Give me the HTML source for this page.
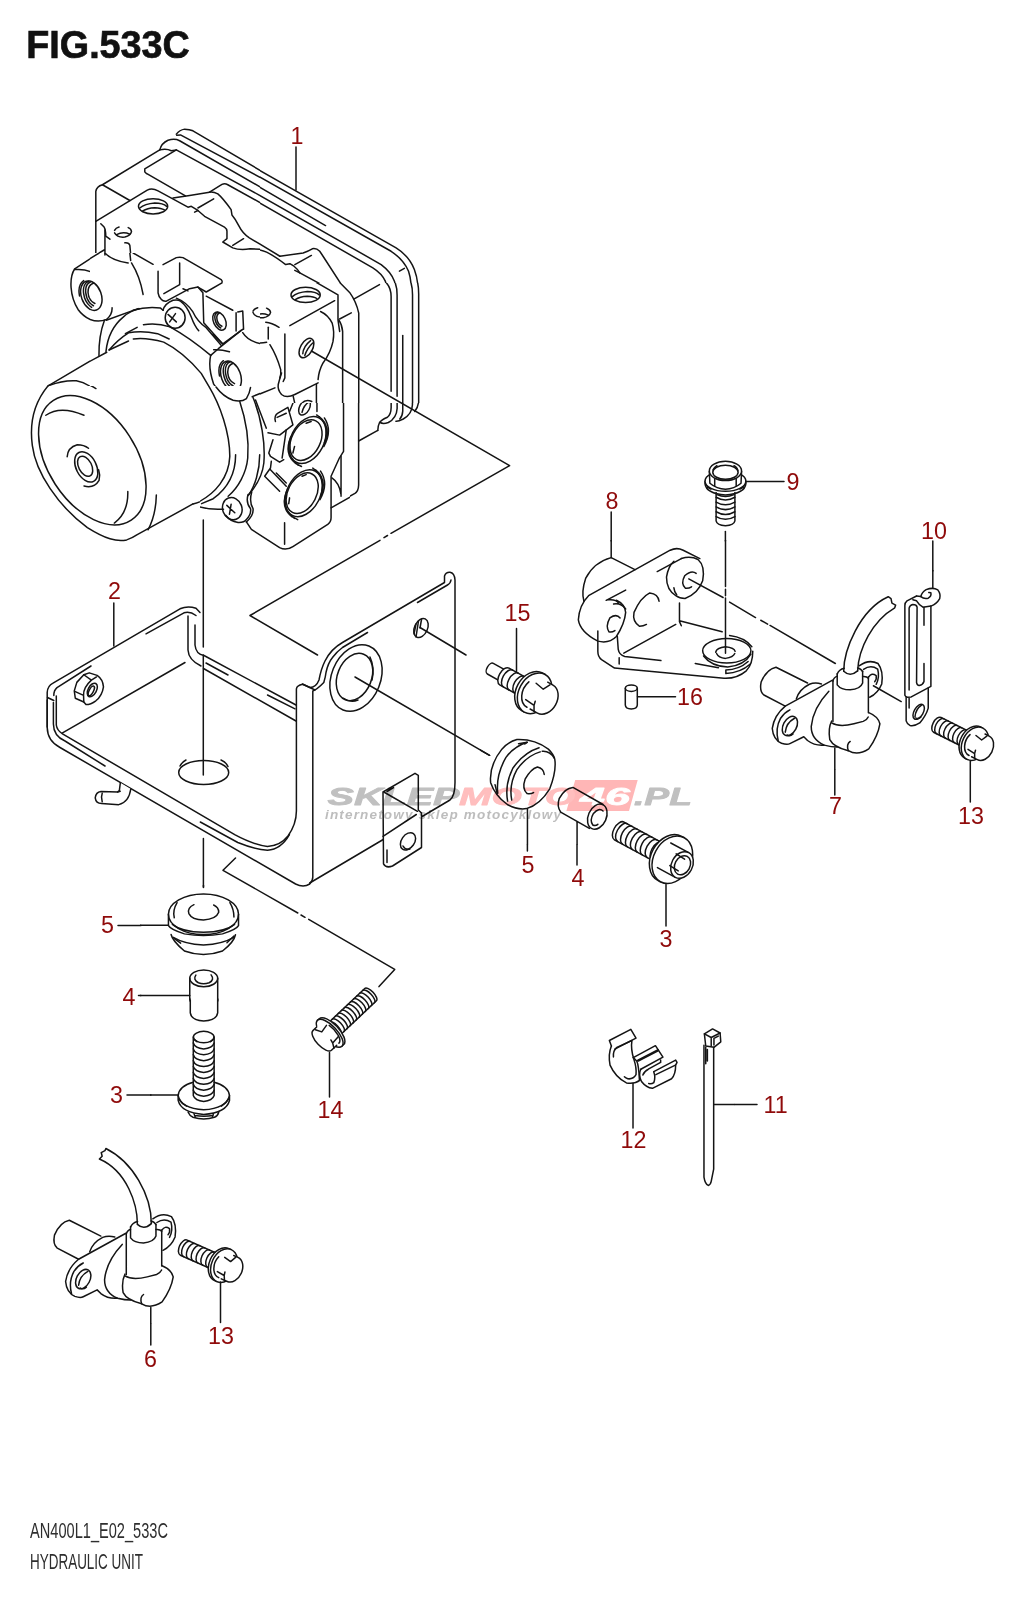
<!DOCTYPE html>
<html lang="pl">
<head>
<meta charset="utf-8">
<title>FIG.533C HYDRAULIC UNIT</title>
<style>
html,body{margin:0;padding:0;background:#fff;}
body{width:1024px;height:1600px;overflow:hidden;font-family:"Liberation Sans",sans-serif;}
svg{display:block;position:absolute;left:0;top:0;}
.l{fill:none;stroke:#141414;stroke-width:1.5;stroke-linecap:round;stroke-linejoin:round;}
.f{fill:#fff;stroke:#141414;stroke-width:1.5;stroke-linecap:round;stroke-linejoin:round;}
.v path,.v ellipse,.v circle,.v line{vector-effect:non-scaling-stroke;}
.n{font-family:"Liberation Sans",sans-serif;font-size:23.3px;fill:#8f0a0a;text-anchor:middle;}
.t{font-family:"Liberation Sans",sans-serif;font-weight:bold;font-size:39px;fill:#111;stroke:#111;stroke-width:0.7px;}
.b{font-family:"Liberation Sans",sans-serif;font-size:22.3px;fill:#2e2e2e;}
</style>
</head>
<body>
<svg width="1024" height="1600" viewBox="0 0 1024 1600">
<rect width="1024" height="1600" fill="#fff"/>
<!--TITLE-->
<text class="t" x="26.300" y="57.600" textLength="163.500" lengthAdjust="spacingAndGlyphs">FIG.533C</text>

<!-- long leader / phantom lines -->
<g class="l" id="leaders">
<path d="M296 147V190"/>
<path d="M113.8 603V646"/>
<path d="M203.3 520V647M203.3 655V775M203.4 838.6V887"/>
<path d="M311.4 351L509.6 465.6L391 533.3M387.5 535.5L384 537.7M380 540.3L250 615.5L317.5 655"/>
<path d="M235.5 858L223 870.3L297.8 913M301 915L305 917.3M308.7 919.4L394.700 969.400L379 986.600"/>
<path d="M355 677L489.600 755.300"/>
<path d="M420 627.5L466 655"/>
</g>
<!-- PART 2 bracket -->
<g class="l" id="bracket">
<path d="M47.2 727V692.5Q47.5 686 53 683.2L180 608.8Q187.5 605.3 196 608.2L200 612.5"/>
<path d="M53.8 695.5Q53.8 690.3 57 687.6L91 666M146 633.8L184 612.8Q190 611 196 615.5"/>
<path d="M47.5 697.5L53.8 700.5"/>
<path d="M188 616V650Q188.5 660 201 666"/>
<path d="M195 625V645Q196 654.5 204 655.5L296 705"/>
<path d="M203.5 668.5L296 721M267.5 695L295 708.8M206 663L228 675"/>
<path d="M62.5 732.8L185 662.5"/>
<path d="M47.2 700V727.5Q47.5 741 60 747.5L295.6 884Q303.4 888 309.7 884Q312.8 881 312.8 877V691Q317 689.5 323.8 682.5Q325.5 677 326 672.5Q328 663 332.5 657.5Q337 651.5 342.5 647.5L367.5 632.5"/>
<path d="M53.4 702.5V724Q53.5 736 65 741L105 766"/>
<path d="M56.3 696V725Q57 730.5 62.5 733.8L234.7 834.7Q253.4 844.8 267.5 846.4Q280 846 288 836Q296.4 824 296.4 811V688.8Q297 685.5 302.5 684.3L310 687.5Q316 687.5 319 680Q321 669 325 661Q331 649 342.5 642.5L444.5 582.5V576Q446 572 450 572.3Q454.5 573 455 580V782.5Q455 796 450 800L309.7 883"/>
<path d="M200.3 822L237.8 842.5Q255 849.5 267.5 850.3Q281 849.5 289.4 834.7"/>
<path d="M302.5 684L315 690"/>
<path d="M417.5 602.5L447.5 585Q450.5 583.5 451 580"/>
<!-- hole in plate -->
<ellipse cx="203.7" cy="772.5" rx="25" ry="12"/>
<path d="M180 766Q182 762 186 760M221 760Q226 762 228 766.5"/>
<!-- big hole -->
<ellipse cx="356" cy="678" rx="24.5" ry="34.5" transform="rotate(22 356 678)"/>
<ellipse cx="354.5" cy="677" rx="17" ry="24.5" transform="rotate(22 354.5 677)"/>
<path d="M370 657Q375 668 372 680M343 698Q350 703 358 700"/>
<!-- small hole -->
<ellipse cx="421" cy="628" rx="6.5" ry="10" transform="rotate(25 421 628)"/>
<path d="M416 624L414 634M418.5 621L416 637M421.5 619.5L420 628"/>
<!-- small tab -->
<path class="f" d="M383 792L415 773.3L418.300 775.300V810L421.500 813V847.500L392.500 866Q386 868.500 383.500 863.800Z"/>
<path d="M383.800 792L417.500 811.300M383 836.300L416.300 814.500M389 789.500L393.500 787.600L387 791.500M387 850V862.500"/>
<ellipse cx="408" cy="841.300" rx="6.500" ry="9.500" transform="rotate(35 408 841.300)"/>
<path d="M403 846Q405 850 410 849"/>
</g>

<!-- nut + hook pin -->
<clipPath id="c1"><rect x="0" y="0" width="1024" height="1339"/></clipPath><g transform="translate(40,650) scale(0.126953)"><g clip-path="url(#c1)" class="l v">
<path d="M270 322L290 255L345 195L388 180L450 200Q495 230 500 290Q490 360 440 400Q400 430 362 430L345 410L278 380Z"/>
<path d="M345 195L405 237L445 212M278 328L343 357L345 410M343 357Q340 295 405 237"/>
<ellipse cx="412" cy="315" rx="33" ry="58" transform="rotate(28 412 315)"/>
<ellipse cx="404" cy="322" rx="17" ry="42" transform="rotate(28 404 322)"/>
<path class="f" d="M633 1045L625 1108L612 1118L480 1115Q440 1120 435 1165Q440 1208 485 1210L620 1218Q700 1200 715 1095"/>
<path d="M490 1128Q478 1160 490 1195M612 1118L632 1112"/>
</g></g>

<!-- ABS tile 1 -->
<clipPath id="c2"><rect x="0" y="0" width="1024" height="801.129"/></clipPath><g transform="translate(90,120) scale(0.166016)"><g clip-path="url(#c2)" class="l v">
<path d="M520 85Q540 60 570 55Q600 55 620 65L1024 303"/>
<path d="M522 92L545 90L1024 345"/>
<path d="M420 180Q430 140 470 122Q510 110 540 125L1024 403"/>
<path d="M420 180Q460 170 490 185L520 180L1024 455"/>
<path d="M420 180L75 390Q40 400 35 430V810"/>
<path d="M520 180L330 295V312Q335 320 345 325L575 457"/>
<path d="M75 390L240 485"/>
<path d="M35 610L345 422Q375 408 410 427L590 525L610 520L650 545L690 580L810 645Q825 655 825 670V715L800 735L860 770Q900 785 964 776L1024 778"/>
<path d="M500 470L600 455L720 435Q745 432 770 445Q800 470 850 540L855 572Q875 595 895 635Q920 685 960 710L1024 748"/>
<path d="M720 435L795 388Q812 380 830 390L1024 497"/>
<path d="M650 530L745 475"/>
<path d="M630 555L650 545"/>
<path d="M860 755L925 715"/>
<ellipse cx="380" cy="520" rx="88" ry="46"/>
<path d="M300 530Q330 505 390 500Q440 500 462 520M318 548Q345 530 390 528Q430 530 448 542"/>
<path d="M148 665Q155 650 175 645M230 648Q248 655 250 672Q245 695 210 705Q165 710 148 680"/>
<path d="M160 690Q200 670 240 688"/>
<path d="M65 625L85 645Q95 660 95 700L120 718"/>
<path d="M210 740Q235 738 240 755L245 810"/>
<path d="M55 801L90 780M90 662V801"/>
</g></g>

<!-- ABS tile 2 -->
<clipPath id="c3"><rect x="60" y="0" width="964" height="801"/></clipPath><g transform="translate(250,150) scale(0.166016)"><g clip-path="url(#c3)" class="l v">
<path d="M0 90L880 590Q960 640 990 720Q1008 770 1010 810"/>
<path d="M0 130L850 610Q925 660 955 730Q968 770 970 810"/>
<path d="M0 190L455 455"/>
<path d="M0 240L790 690Q850 735 870 790L875 810"/>
<path d="M0 285L740 710Q795 745 815 790L822 810"/>
<path d="M900 730L930 713"/>
<path d="M0 530L180 640"/>
<path d="M0 595Q60 597 100 615Q150 640 215 690L240 685L265 700Q290 720 300 740"/>
<path d="M180 640L320 620Q350 610 375 595Q400 590 420 610L440 640L550 810"/>
<path d="M270 690L370 635"/>
<path d="M270 725L300 740L420 805"/>
</g></g>

<!-- ABS tile 3 -->
<clipPath id="c4"><rect x="60" y="78" width="964" height="723"/></clipPath><g transform="translate(250,270) scale(0.166016)"><g clip-path="url(#c4)" class="l v">
<path d="M270 0L530 150V300L540 370"/>
<path d="M488 0L545 80L600 135Q640 190 655 260V810"/>
<path d="M625 175L780 88"/>
<path d="M540 295L610 258"/>
<path d="M535 300Q555 330 558 370V810"/>
<path d="M822 78Q850 110 850 160V730"/>
<path d="M875 78Q887 110 886 160V760"/>
<path d="M920 395V810"/>
<path d="M970 78Q980 110 979 160V810"/>
<path d="M1010 78Q1017 110 1016 160V810"/>
<path d="M240 335L510 185"/>
<path d="M210 385V650L200 672"/>
<ellipse cx="340" cy="470" rx="36" ry="64" transform="rotate(30 340 470)"/>
<path d="M318 505Q320 460 365 425M330 515Q345 470 378 440"/>
<path d="M425 250Q470 270 495 320Q510 370 500 430Q485 500 440 560Q415 605 410 660"/>
<path d="M410 680L270 750Q220 775 190 750Q165 720 170 690Q180 650 190 620"/>
<path d="M400 690V810"/>
<ellipse cx="335" cy="150" rx="88" ry="46"/>
<path d="M255 160Q285 135 345 130Q395 130 417 150M273 178Q300 160 345 158Q385 160 403 172"/>
<path d="M15 255Q20 235 40 228M100 230Q122 240 124 255Q118 280 80 288Q30 290 15 262"/>
<path d="M30 275Q70 255 110 272"/>
<path d="M95 315Q130 318 175 345"/>
<path d="M110 345V415"/>
<path d="M0 430Q50 445 100 435"/>
<path d="M120 450Q160 515 185 600Q188 630 180 650"/>
<path d="M0 770L150 710"/>
<path d="M260 760L270 805"/>
<path d="M310 805Q335 775 372 792"/>
</g></g>

<!-- ABS tile 4 -->
<clipPath id="c5"><rect x="0" y="0" width="1024" height="801.129"/></clipPath><g transform="translate(90,253) scale(0.166016)"><g clip-path="url(#c5)" class="l v">
<path d="M260 0L380 68"/>
<path d="M0 34L55 0M90 0V12"/>
<path d="M90 0Q130 45 230 60"/>
<path d="M240 0L245 45"/>
<path d="M250 60Q300 140 320 250"/>
<g transform="translate(8 257) rotate(-20)"><ellipse cx="0" cy="0" rx="60" ry="92"/><path d="M13.2 -87.1 A55.2 87.1 0 0 0 -22.3 66.7M26.4 -80.1 A55.2 80.1 0 0 0 -9.1 61.4M39.6 -67.0 A55.2 67.0 0 0 0 4.1 51.4M-67.2 -23.0 A69.0 103.0 0 0 1 -12.0 -101.2"/></g>
<path d="M133 330Q135 370 100 400Q50 420 0 400"/>
<path d="M98 405L290 335"/>
<path d="M260 345Q340 322 425 332L440 345"/>
<path d="M440 70L520 28Q540 22 560 28L790 160Q800 170 795 180L700 235L650 205L600 215L460 290Q440 292 430 280Q412 260 410 240V110"/>
<path d="M540 60V190L445 245M560 215L590 228"/>
<path d="M650 205L680 240L685 420L800 548"/>
<path d="M700 260L860 345M880 360V470"/>
<g transform="translate(780 410) rotate(-25)"><ellipse cx="0" cy="0" rx="36" ry="58"/><path d="M10.8 -53.7 A33.1 53.7 0 0 0 -10.5 41.1M21.6 -45.0 A33.1 45.0 0 0 0 0.3 34.5"/></g>
<path d="M740 490L800 548L920 460"/>
<path d="M890 355L920 350L925 460"/>
<path d="M982 350Q990 335 1010 330M982 358Q995 390 1040 385"/>
<path d="M920 480Q950 530 1024 545"/>
<ellipse cx="513" cy="390" rx="60" ry="63"/>
<path d="M470 370L520 415M515 365L480 415"/>
<path d="M440 345Q450 305 500 285Q530 280 545 290Q585 320 610 385Q630 440 655 468"/>
<path d="M520 272Q580 295 620 355Q645 410 700 450L790 555"/>
<path d="M54 617Q52 500 87 405"/>
<path d="M96 594Q110 460 200 386Q245 345 300 335"/>
<path d="M213 486L284 448M322 432Q400 418 482 445Q600 510 727 617"/>
<path d="M115 584Q170 520 232 481Q312 465 407 486L477 518"/>
<path d="M115 584L232 530M261 518Q340 508 444 537Q560 595 670 725L720 810"/>
<path d="M-2 653L101 598"/>
<path d="M727 617L775 575L912 465"/>
<path d="M745 583Q790 580 840 595"/>
<path d="M727 617Q710 690 745 790L760 810"/>
<g transform="translate(849 740) rotate(-20)"><ellipse cx="0" cy="0" rx="58" ry="92"/><path d="M12.8 -87.1 A53.4 87.1 0 0 0 -21.5 66.7M25.5 -80.1 A53.4 80.1 0 0 0 -8.8 61.4M38.3 -67.0 A53.4 67.0 0 0 0 4.0 51.4M-65.0 -23.0 A66.7 103.0 0 0 1 -11.6 -101.2"/></g>
</g></g>

<!-- ABS tile 5 (left boss) -->
<clipPath id="c6"><rect x="0" y="0" width="542" height="801"/></clipPath><g transform="translate(0,253) scale(0.166016)"><g clip-path="url(#c6)" class="l v">
<path d="M596 0L450 95C415 150 420 260 470 340C510 395 580 425 625 412C660 395 675 360 675 330"/>
<path d="M450 100Q510 95 550 115"/>
<g transform="translate(550 257) rotate(-20)"><ellipse cx="0" cy="0" rx="60" ry="92"/><path d="M13.2 -87.1 A55.2 87.1 0 0 0 -22.3 66.7M26.4 -80.1 A55.2 80.1 0 0 0 -9.1 61.4M39.6 -67.0 A55.2 67.0 0 0 0 4.1 51.4M-67.2 -23.0 A69.0 103.0 0 0 1 -12.0 -101.2"/></g>
<path d="M290 800L572 634"/>
<path d="M290 800Q380 765 460 770Q510 780 545 805"/>
</g></g>

<!-- ABS motor tile -->
<clipPath id="c7"><rect x="0" y="205" width="801" height="774"/></clipPath><g transform="translate(20,340) scale(0.224609)"><g clip-path="url(#c7)" class="l v">
<path d="M125 204C70 270 40 360 55 470C70 590 170 740 300 835C380 885 430 900 475 890Q500 882 520 868L770 730"/>
<ellipse cx="322" cy="535" rx="318" ry="197" transform="rotate(57 322 535)"/>
<path d="M125 204Q190 172 255 182Q300 192 338 216"/>
<path d="M115 335Q180 290 285 335"/>
<path d="M480 675Q482 770 420 815"/>
<path d="M607 690Q605 780 570 845"/>
<path d="M210 520Q212 478 255 466Q285 466 305 482"/>
<path d="M285 650Q330 662 352 625Q358 600 350 578"/>
<ellipse cx="295" cy="565" rx="45" ry="72" transform="rotate(-27 295 565)"/>
<ellipse cx="290" cy="562" rx="29" ry="48" transform="rotate(-27 290 562)"/>
<path d="M835 205Q890 300 925 430Q945 540 915 630Q880 700 770 730"/>
</g></g>

<!-- ABS valve block lower -->
<clipPath id="c8"><rect x="120" y="36" width="362" height="1169"/><rect x="482" y="138" width="542" height="1067"/></clipPath><g transform="translate(180,380) scale(0.166016)"><g clip-path="url(#c8)" class="l v">
<path d="M150 0C250 150 300 330 300 460C295 580 220 690 80 750L0 795"/>
<path d="M360 130C400 250 415 380 408 470C400 560 350 650 290 700"/>
<path d="M440 105C490 230 515 380 505 500C495 590 450 650 410 695"/>
<path d="M335 450C335 560 290 650 200 715L130 745"/>
<path d="M480 450C480 550 450 640 415 690"/>
<path d="M80 750Q160 785 262 778"/>
<ellipse cx="315" cy="775" rx="58" ry="68" transform="rotate(-20 315 775)"/>
<path d="M282 755L330 800M308 748L298 808"/>
<path d="M410 690Q395 740 425 775Q430 810 400 840Q385 860 350 858Q300 850 275 815"/>
<path d="M432 675Q415 735 440 775Q445 815 400 855"/>
<path d="M400 855L430 900L600 1010Q640 1030 680 1003L890 870Q910 855 910 830V580L960 470L985 430V0"/>
<path d="M630 860V990"/>
<path d="M970 460V700M915 590Q960 620 970 690"/>
<path d="M910 770L1024 705"/>
<path d="M217 42Q260 100 320 122Q370 135 400 112Q420 80 425 45"/>
<path d="M435 100L575 45L590 0"/>
<path d="M600 0Q590 60 620 98Q650 112 700 90L830 20"/>
<path d="M540 80L570 110"/>
<path d="M575 250Q565 215 590 200L650 165L680 270L600 332L530 318"/>
<path d="M585 225L640 200"/>
<path d="M560 360L535 440L545 460L600 495L625 480"/>
<path d="M640 300L615 470"/>
<path d="M550 490L545 530L510 580L600 670"/>
<path d="M545 540L640 640M580 560L640 620"/>
<path d="M455 120L520 290"/>
<ellipse cx="750" cy="165" rx="30" ry="50" transform="rotate(28 750 165)"/>
<path d="M735 195Q745 150 780 130"/>
<path d="M700 90L660 190M825 20V190"/>
<g transform="translate(768 362) rotate(27)"><ellipse rx="100" ry="150"/><ellipse cx="-8" cy="4" rx="86" ry="130"/>
<path d="M-98 30Q-90 140 0 158M-92 60Q-70 150 20 160M-85 90Q-50 160 40 158M98 -30Q90 -140 0 -158M92 -60Q70 -150 -20 -160M105 -10Q110 -120 30 -165"/></g>
<g transform="translate(745 682) rotate(27)"><ellipse rx="100" ry="150"/><ellipse cx="-8" cy="4" rx="86" ry="130"/>
<path d="M-98 30Q-90 140 0 158M-92 60Q-70 150 20 160M-85 90Q-50 160 40 158M98 -30Q90 -140 0 -158M92 -60Q70 -150 -20 -160M105 -10Q110 -120 30 -165"/></g>
<path d="M690 400L680 440M760 260L790 250M660 710L655 745M735 580L760 570"/>
</g></g>

<!-- ABS cover lower right -->
<clipPath id="c9"><rect x="57" y="74" width="967" height="626"/></clipPath><g transform="translate(340,390) scale(0.175781)"><g clip-path="url(#c9)" class="l v">
<path d="M106 0V540Q105 575 85 588L0 635"/>
<path d="M106 290L215 230"/>
<path d="M447 0V60Q447 95 425 122"/>
<path d="M412 0V85Q410 135 360 165Q330 180 318 178"/>
<path d="M357 0V120Q355 150 340 165"/>
<path d="M325 0V105Q322 160 275 185Q245 195 228 185"/>
<path d="M291 0V100Q290 140 270 155Q235 170 225 185Q215 205 215 230"/>
</g></g>

<!-- bolts -->
<g transform="translate(983.3 747.9) rotate(206.6)"><path class="f" d="M11.80 -8.30 L51.44 -8.30 A4.57 8.30 0 0 1 51.44 8.30 L11.80 8.30 Z"/><path class="l" d="M18.21 -8.30 A4.57 8.30 0 0 1 18.21 8.30M23.21 -8.30 A4.57 8.30 0 0 1 23.21 8.30M28.20 -8.30 A4.57 8.30 0 0 1 28.20 8.30M33.20 -8.30 A4.57 8.30 0 0 1 33.20 8.30M38.19 -8.30 A4.57 8.30 0 0 1 38.19 8.30M43.19 -8.30 A4.57 8.30 0 0 1 43.19 8.30M48.19 -8.30 A4.57 8.30 0 0 1 48.19 8.30"/><path class="f" d="M9.30 -17.50 L11.80 -17.50 A12.60 17.50 0 0 1 11.80 17.50 L9.30 17.50 Z"/><ellipse class="f" cx="9.30" cy="0" rx="12.60" ry="17.50"/><path d="M9.30 -13.20 L0 -13.20 A9.50 13.20 0 0 0 0 13.20 L9.30 13.20 Z" fill="#fff" stroke="none"/><ellipse cx="0" cy="0" rx="9.50" ry="13.20" fill="#fff" stroke="none"/><path class="l" d="M9.30 -13.20 A9.50 13.20 0 0 1 17.85 5.94"/><path class="l" d="M6.51 -13.20 L0.00 -13.20 A9.50 13.20 0 0 0 0.00 13.20 L4.65 13.20"/><path class="l" d="M12.09 7.79 L5.02 6.34 L2.14 12.14 M13.02 -8.18 L5.21 -8.98 L5.95 -5.54 M5.21 -8.98 L2.88 -13.46"/></g>
<g transform="translate(682 865) rotate(208.5)"><path class="f" d="M14.00 -10.10 L71.44 -10.10 A5.56 10.10 0 0 1 71.44 10.10 L14.00 10.10 Z"/><path class="l" d="M22.88 -10.10 A5.56 10.10 0 0 1 22.88 10.10M28.50 -10.10 A5.56 10.10 0 0 1 28.50 10.10M34.11 -10.10 A5.56 10.10 0 0 1 34.11 10.10M39.73 -10.10 A5.56 10.10 0 0 1 39.73 10.10M45.34 -10.10 A5.56 10.10 0 0 1 45.34 10.10M50.95 -10.10 A5.56 10.10 0 0 1 50.95 10.10M56.57 -10.10 A5.56 10.10 0 0 1 56.57 10.10M62.18 -10.10 A5.56 10.10 0 0 1 62.18 10.10M67.80 -10.10 A5.56 10.10 0 0 1 67.80 10.10"/><path class="f" d="M11.00 -25.00 L14.00 -25.00 A18.75 25.00 0 0 1 14.00 25.00 L11.00 25.00 Z"/><ellipse class="f" cx="11.00" cy="0" rx="18.75" ry="25.00"/><path d="M11.00 -14.00 L0 -14.00 A10.50 14.00 0 0 0 0 14.00 L11.00 14.00 Z" fill="#fff" stroke="none"/><path class="l" d="M20.38 -14.00 L0 -14.00 M0 14.00 L20.38 14.00"/><ellipse class="f" cx="0" cy="0" rx="10.50" ry="14.00"/><ellipse class="l" cx="-0.50" cy="0" rx="7.56" ry="10.08"/><path class="l" d="M10.45 -6.30 L0.50 -7.00 M10.45 7.00 L0.50 6.30"/></g>
<g transform="translate(545.2 699.1) rotate(209)"><path class="f" d="M46.72 -6.10 L62.72 -6.10 A3.35 6.10 0 0 1 62.72 6.10 L46.72 6.10 Z"/><path class="f" d="M15.00 -9.60 L46.72 -9.60 A5.28 9.60 0 0 1 46.72 9.60 L15.00 9.60 Z"/><path class="l" d="M23.09 -9.60 A5.28 9.60 0 0 1 23.09 9.60M29.56 -9.60 A5.28 9.60 0 0 1 29.56 9.60M36.04 -9.60 A5.28 9.60 0 0 1 36.04 9.60M42.51 -9.60 A5.28 9.60 0 0 1 42.51 9.60"/><path class="f" d="M12.00 -21.50 L15.00 -21.50 A15.91 21.50 0 0 1 15.00 21.50 L12.00 21.50 Z"/><ellipse class="f" cx="12.00" cy="0" rx="15.91" ry="21.50"/><path d="M12.00 -16.00 L0 -16.00 A11.84 16.00 0 0 0 0 16.00 L12.00 16.00 Z" fill="#fff" stroke="none"/><ellipse cx="0" cy="0" rx="11.84" ry="16.00" fill="#fff" stroke="none"/><path class="l" d="M12.00 -16.00 A11.84 16.00 0 0 1 22.66 7.20"/><path class="l" d="M8.40 -16.00 L0.00 -16.00 A11.84 16.00 0 0 0 0.00 16.00 L6.00 16.00"/><path class="l" d="M15.60 9.44 L6.48 7.68 L2.76 14.72 M16.80 -9.92 L6.72 -10.88 L7.68 -6.72 M6.72 -10.88 L3.72 -16.32"/></g>
<g transform="translate(322.2 1040.4) rotate(-43.4) scale(1,-1)"><path class="f" d="M12.80 -8.50 L66.60 -8.50 A3.40 8.50 0 0 1 66.60 8.50 L12.80 8.50 Z"/><path class="l" d="M17.71 -8.50 A3.40 8.50 0 0 1 17.71 8.50M21.91 -8.50 A3.40 8.50 0 0 1 21.91 8.50M26.10 -8.50 A3.40 8.50 0 0 1 26.10 8.50M30.30 -8.50 A3.40 8.50 0 0 1 30.30 8.50M34.50 -8.50 A3.40 8.50 0 0 1 34.50 8.50M38.69 -8.50 A3.40 8.50 0 0 1 38.69 8.50M42.89 -8.50 A3.40 8.50 0 0 1 42.89 8.50M47.09 -8.50 A3.40 8.50 0 0 1 47.09 8.50M51.28 -8.50 A3.40 8.50 0 0 1 51.28 8.50M55.48 -8.50 A3.40 8.50 0 0 1 55.48 8.50M59.68 -8.50 A3.40 8.50 0 0 1 59.68 8.50M63.87 -8.50 A3.40 8.50 0 0 1 63.87 8.50"/><path class="f" d="M10.30 -17.80 L12.80 -17.80 A7.48 17.80 0 0 1 12.80 17.80 L10.30 17.80 Z"/><ellipse class="f" cx="10.30" cy="0" rx="7.48" ry="17.80"/><path d="M10.30 -13.50 L0 -13.50 A5.67 13.50 0 0 0 0 13.50 L10.30 13.50 Z" fill="#fff" stroke="none"/><ellipse cx="0" cy="0" rx="5.67" ry="13.50" fill="#fff" stroke="none"/><path class="l" d="M10.30 -13.50 A5.67 13.50 0 0 1 15.40 6.08"/><path class="l" d="M7.21 -13.50 L0.00 -13.50 A5.67 13.50 0 0 0 0.00 13.50 L5.15 13.50"/><path class="l" d="M13.39 7.96 L5.56 6.48 L2.37 12.42 M14.42 -8.37 L5.77 -9.18 L6.59 -5.67 M5.77 -9.18 L3.19 -13.77"/></g>
<g transform="translate(232.6 1269.4) rotate(204)"><path class="f" d="M11.80 -8.30 L53.44 -8.30 A4.57 8.30 0 0 1 53.44 8.30 L11.80 8.30 Z"/><path class="l" d="M18.31 -8.30 A4.57 8.30 0 0 1 18.31 8.30M23.59 -8.30 A4.57 8.30 0 0 1 23.59 8.30M28.87 -8.30 A4.57 8.30 0 0 1 28.87 8.30M34.16 -8.30 A4.57 8.30 0 0 1 34.16 8.30M39.44 -8.30 A4.57 8.30 0 0 1 39.44 8.30M44.72 -8.30 A4.57 8.30 0 0 1 44.72 8.30M50.00 -8.30 A4.57 8.30 0 0 1 50.00 8.30"/><path class="f" d="M9.30 -17.50 L11.80 -17.50 A12.60 17.50 0 0 1 11.80 17.50 L9.30 17.50 Z"/><ellipse class="f" cx="9.30" cy="0" rx="12.60" ry="17.50"/><path d="M9.30 -13.20 L0 -13.20 A9.50 13.20 0 0 0 0 13.20 L9.30 13.20 Z" fill="#fff" stroke="none"/><ellipse cx="0" cy="0" rx="9.50" ry="13.20" fill="#fff" stroke="none"/><path class="l" d="M9.30 -13.20 A9.50 13.20 0 0 1 17.85 5.94"/><path class="l" d="M6.51 -13.20 L0.00 -13.20 A9.50 13.20 0 0 0 0.00 13.20 L4.65 13.20"/><path class="l" d="M12.09 7.79 L5.02 6.34 L2.14 12.14 M13.02 -8.18 L5.21 -8.98 L5.95 -5.54 M5.21 -8.98 L2.88 -13.46"/></g>
<g class="l"><path d="M970.3 761V802M666 884.500V926M516.500 628.500V672M329.500 1052.500V1097M220.500 1282V1322.500"/></g>

<!-- bolt 9 -->
<clipPath id="c10"><rect x="0" y="0" width="900" height="838"/></clipPath><g transform="translate(690,450) scale(0.107422)"><g clip-path="url(#c10)" class="l v">
<path d="M243 395V660Q250 700 330 705Q410 700 418 660V395"/>
<path d="M243 440Q330 490 418 440M243 485Q330 535 418 485M243 530Q330 580 418 530M243 575Q330 625 418 575M243 620Q330 670 418 620M250 415Q330 450 410 415"/>
<path d="M140 290V315Q150 405 330 418Q510 405 520 315V290"/>
<ellipse cx="330" cy="290" rx="190" ry="95" fill="#fff"/>
<path d="M180 200L185 310Q250 365 330 365Q410 365 475 310L480 200" fill="#fff"/>
<path d="M230 265V335M430 265V335"/>
<ellipse cx="330" cy="195" rx="150" ry="90" fill="#fff"/>
<ellipse cx="330" cy="207" rx="118" ry="66"/>
<path d="M215 185Q225 160 250 145M410 145Q440 160 445 190"/>
<path d="M160 345L195 365M500 345L465 365"/>
<path d="M520 293H875"/>
</g></g>
<g class="l"><path d="M725.400 531.600V541"/></g>

<!-- left bolt 3 + collar 4 bottom -->
<clipPath id="c11"><rect x="0" y="0" width="1024" height="1164"/></clipPath><g transform="translate(150,1000) scale(0.107422)"><g clip-path="url(#c11)" class="l v">
<path d="M375 0V120Q385 190 500 195Q620 190 630 120V0"/>
<path d="M403 345V890Q420 940 500 945Q580 940 597 890V345"/>
<ellipse cx="500" cy="345" rx="96" ry="53"/>
<path d="M403 400Q420 450 500 455Q580 450 597 400M403 455Q420 505 500 510Q580 505 597 455M403 510Q420 560 500 565Q580 560 597 510M403 565Q420 615 500 620Q580 615 597 565M403 620Q420 670 500 675Q580 670 597 620M403 675Q420 725 500 730Q580 725 597 675M403 730Q420 780 500 785Q580 780 597 730M403 785Q420 835 500 840Q580 835 597 785M403 840Q420 890 500 895Q580 890 597 840"/>
<path d="M410 365L437 388M590 365L563 388"/>
<path d="M403 765Q270 800 262 890V935Q290 1050 500 1065Q710 1050 740 935V890Q730 800 597 765"/>
<path d="M262 890Q290 1010 500 1022Q710 1010 740 890"/>
<path d="M270 925Q295 965 340 988M665 988Q712 958 735 915"/>
<path d="M355 1045Q370 1080 400 1092Q500 1125 600 1092Q630 1080 640 1045"/>
<path d="M410 1058L420 1088M590 1058L583 1088M418 1075Q500 1090 588 1075"/>
<path d="M0 885H262"/>
</g></g>
<!-- grommet 5 (left) + collar 4 top -->
<clipPath id="c12"><rect x="0" y="0" width="800" height="906"/></clipPath><g transform="translate(140,885) scale(0.126953)"><g clip-path="url(#c12)" class="l v">
<path d="M500 0V20"/>
<ellipse cx="500" cy="230" rx="276" ry="160"/>
<path d="M224 230V320Q240 350 350 385Q500 410 650 385Q760 350 776 320V230"/>
<path d="M270 258Q255 200 292 138M740 252Q740 190 708 138"/>
<path d="M255 310Q330 370 500 372Q670 370 745 310"/>
<path d="M425 155Q370 180 385 225Q410 275 500 275Q600 270 620 215Q620 175 580 158"/>
<path d="M245 390Q255 440 350 520Q500 575 650 520Q740 450 752 392"/>
<path d="M262 412Q350 465 500 472Q650 465 738 412"/>
<path d="M268 420L320 458M740 402L685 455"/>
<path d="M0 318H224"/>
<ellipse cx="502" cy="735" rx="110" ry="66"/>
<path d="M440 710Q415 745 460 770Q500 785 545 770Q590 745 560 708"/>
<path d="M392 735V906M612 735V906"/>
<path d="M0 870H392"/>
</g></g>
<g class="l"><path d="M118 925.400H141M138.500 995.400H141M127 1095H151M190 999V1001M217.800 999V1001"/></g>

<!-- mid grommet 5 + collar 4 -->
<clipPath id="c13"><rect x="0" y="0" width="960" height="841"/></clipPath><g transform="translate(480,730) scale(0.136719)"><g clip-path="url(#c13)" class="l v">
<path d="M340 575Q270 585 200 545Q110 480 78 385Q65 260 160 140Q210 85 270 70Q400 65 500 140Q540 180 547 215Q560 300 510 430Q440 545 340 575Z"/>
<path d="M130 462Q115 330 190 200Q250 120 345 90"/>
<path d="M202 520Q180 400 240 280Q320 165 432 130"/>
<path d="M232 512Q210 400 270 290Q340 190 440 160M455 155Q510 150 543 205"/>
<path d="M470 325Q465 280 420 270Q370 285 330 360Q305 430 345 465Q370 470 392 458"/>
<path d="M282 100L345 90L328 102M110 400L126 466"/>
<path d="M347 576V841"/>
<path d="M0 145L70 185"/>
<path d="M590 600Q560 560 580 500Q620 425 680 420L900 545M590 600L800 720"/>
<ellipse cx="858" cy="634" rx="66" ry="96" transform="rotate(24 858 634)"/>
<path d="M900 592Q870 565 830 610Q800 660 825 695Q845 705 862 690"/>
<path d="M710 675V841"/>
</g></g>
<g class="l"><path d="M527.400 845V851M577 845V865"/></g>

<!-- part 8 bracket + washer -->
<clipPath id="c14"><rect x="0" y="0" width="1024" height="770"/></clipPath><g transform="translate(570,540) scale(0.185547)"><g clip-path="url(#c14)" class="l v">
<path d="M222 0V95"/>
<path d="M350 160L222 95Q130 120 85 205Q60 280 75 330"/>
<path d="M700 100L610 55Q575 38 540 55L100 300Q50 350 45 430Q55 495 150 545Q210 560 250 520Q295 450 300 390Q295 345 250 325"/>
<path d="M195 325L300 270"/>
<path d="M205 322Q250 318 262 340M235 345Q275 338 300 372"/>
<path d="M270 420Q250 395 215 420Q190 465 210 495Q225 500 242 488"/>
<path d="M480 330Q475 290 430 285Q380 310 345 390Q335 440 375 465Q395 465 412 455"/>
<path d="M470 170L600 100"/>
<path d="M600 100Q650 85 690 105Q730 140 715 220Q690 290 620 315Q590 315 570 300Q520 270 520 200Q530 140 560 115"/>
<path d="M560 258Q562 280 575 295"/>
<path d="M680 180Q655 160 618 193Q595 235 622 260Q640 262 655 252"/>
<path d="M290 610L570 455"/>
<path d="M590 340V440L600 462M590 435L820 495"/>
<path d="M150 490V600Q150 630 170 645L240 690L830 745Q900 748 950 705Q985 670 985 600"/>
<path d="M255 520L260 590Q265 620 295 628L490 650"/>
<path d="M265 635V668"/>
<path d="M675 665L800 688"/>
<ellipse cx="845" cy="597" rx="130" ry="66"/>
<path d="M860 515Q940 525 980 575M720 625Q760 680 850 685Q940 675 975 615M840 700Q910 700 960 655M840 720V700M840 720Q920 715 970 670"/>
<path d="M785 605Q790 580 838 575Q885 580 890 600M790 612Q800 635 838 638Q880 632 888 612"/>
<path d="M838 0V250M838 265V300M838 312V610"/>
<path d="M640 210L825 310M860 335L1000 418"/>
</g></g>
<g class="l"><path d="M611.200 512V541"/></g>


<!-- sensor 7 + clamp 10 -->
<clipPath id="c15"><rect x="0" y="0" width="1100" height="1024"/></clipPath><g transform="translate(750,580) scale(0.185547)"><g clip-path="url(#c15)" class="l v">
<path d="M58 217L95 238M108 245L460 450"/>

<path d="M310 555L140 470Q90 480 60 550Q50 600 75 620L190 680"/>
<path d="M250 640Q265 590 320 562Q350 550 385 560"/>
<path d="M445 540L190 680Q130 730 120 800Q125 860 170 880Q200 890 215 882L290 845L310 865Q350 895 400 890"/>
<path d="M152 866Q135 800 165 745Q185 715 215 700"/>
<ellipse cx="215" cy="787" rx="36" ry="56" transform="rotate(28 215 787)"/>
<path d="M190 820Q195 770 240 745M200 835Q215 845 232 830"/>
<path d="M425 600Q340 690 330 790Q330 860 400 890Q440 900 470 900"/>
<path d="M440 760Q420 800 430 860Q450 900 530 920Q580 950 640 910Q690 840 700 775Q690 735 640 715"/>
<path d="M440 770Q480 795 560 775L610 762Q630 755 637 738"/>
<path d="M530 920Q518 885 540 870"/>
<path d="M447 545V762M638 522V716"/>
<path d="M447 545Q450 525 470 518M607 520Q630 518 638 530"/>
<path d="M470 505V565Q490 592 540 592Q595 588 607 555V492"/>
<path d="M470 507Q480 482 508 476M580 474Q600 478 607 494"/>
<path d="M590 462Q640 425 690 450Q720 490 710 560Q690 610 645 632"/>
<path d="M612 482Q650 455 688 480Q700 525 680 562"/>
<path d="M640 522Q655 498 680 515Q684 535 672 548"/>

<path d="M505 492Q540 525 580 490"/>
<path d="M505 492C505 380 590 160 745 90L760 100L765 125L785 135L780 150C660 220 585 370 580 490"/>
<path d="M665 570L815 655"/>
<path d="M457 905V1024"/>
</g></g>
<g class="l"><path d="M834.800 770V795M932.800 541V571"/></g>

<!-- sensor 6 -->
<clipPath id="c16"><rect x="0" y="0" width="1024" height="1024"/></clipPath><g transform="translate(40,1134) scale(0.185547)"><g clip-path="url(#c16)" class="l v">
<g transform="translate(18 -5)">
<path d="M310 555L140 470Q90 480 60 550Q50 600 75 620L190 680"/>
<path d="M250 640Q265 590 320 562Q350 550 385 560"/>
<path d="M445 540L190 680Q130 730 120 800Q125 860 170 880Q200 890 215 882L290 845L310 865Q350 895 400 890"/>
<path d="M152 866Q135 800 165 745Q185 715 215 700"/>
<ellipse cx="215" cy="787" rx="36" ry="56" transform="rotate(28 215 787)"/>
<path d="M190 820Q195 770 240 745M200 835Q215 845 232 830"/>
<path d="M425 600Q340 690 330 790Q330 860 400 890Q440 900 470 900"/>
<path d="M440 760Q420 800 430 860Q450 900 530 920Q580 950 640 910Q690 840 700 775Q690 735 640 715"/>
<path d="M440 770Q480 795 560 775L610 762Q630 755 637 738"/>
<path d="M530 920Q518 885 540 870"/>
<path d="M447 545V762M638 522V716"/>
<path d="M447 545Q450 525 470 518M607 520Q630 518 638 530"/>
<path d="M470 505V565Q490 592 540 592Q595 588 607 555V492"/>
<path d="M470 507Q480 482 508 476M580 474Q600 478 607 494"/>
<path d="M590 462Q640 425 690 450Q720 490 710 560Q690 610 645 632"/>
<path d="M612 482Q650 455 688 480Q700 525 680 562"/>
<path d="M640 522Q655 498 680 515Q684 535 672 548"/>
</g>
<path d="M525 487C525 380 470 200 320 135L335 120L330 100L350 90L355 78C500 150 600 330 600 482"/>
<path d="M525 487Q560 520 600 483"/>
<path d="M597 935V1024"/>
</g></g>
<g class="l"><path d="M150.800 1324V1345"/></g>

<!-- clamp 10 -->
<clipPath id="c17"><rect x="0" y="0" width="659" height="1600"/></clipPath><g transform="translate(890,570) scale(0.106222)"><g clip-path="url(#c17)" class="l v">
<path d="M403 0V170"/>
<path d="M250 245L160 290Q140 305 140 335V1180Q145 1195 165 1197L200 1195L385 1095V340"/>
<path d="M152 1195V1420Q160 1450 190 1465Q225 1475 280 1440Q340 1370 360 1300V1110"/>
<path d="M180 1130V360Q185 330 215 325Q250 325 255 350L250 1060Q255 1085 275 1088Q310 1080 320 1050V880M320 350V520"/>
<path d="M180 1210V1300"/>
<ellipse cx="270" cy="1335" rx="43" ry="78" transform="rotate(30 270 1335)"/>
<path d="M235 1385Q240 1310 300 1270M245 1395Q265 1405 290 1385"/>
<path d="M215 280L250 290Q270 325 310 350L385 340Q440 320 468 270Q480 225 450 187Q405 160 340 185Q300 210 290 250L250 245"/>
<path d="M290 250Q320 275 360 265Q392 245 385 215L365 212"/>
</g></g>

<!-- clip 12 + tie 11 -->
<clipPath id="c18"><rect x="0" y="0" width="1024" height="1280"/></clipPath><g transform="translate(595,1020) scale(0.136719)"><g clip-path="url(#c18)" class="l v">
<path d="M120 190L105 150L262 68L300 132L145 213"/>
<path d="M120 190Q95 250 110 330Q150 420 230 460Q290 470 330 440"/>
<path d="M135 270Q130 225 160 200L270 150Q260 210 285 290Q305 350 300 400Q280 435 240 430Q225 425 215 415"/>
<path d="M280 275L442 188L497 272L335 360"/>
<path d="M315 297L460 222" style="stroke-width:2.4"/>
<path d="M280 275L305 300Q320 330 325 440"/>
<path d="M335 360Q315 400 340 450Q375 495 420 500L560 430Q590 400 590 330L600 310L590 293L430 377"/>
<path d="M350 402Q360 375 390 360L480 310V292"/>
<path d="M430 380Q445 420 430 458Q415 470 393 465"/>
<path d="M445 400L588 330"/>
<path d="M278 465V790"/>
<path d="M800 102L860 65L915 95L920 160L870 200L810 190Z"/>
<path d="M800 102L850 128L915 95M850 128V190M870 135L902 118M870 135V182"/>
<path d="M797 185V1150Q805 1200 828 1210Q845 1205 850 1180L868 1090V200"/>
<path d="M810 200V320M822 215V300"/>
<path d="M870 618H1024"/>
</g></g>
<g class="l"><path d="M735 1104.500H757"/></g>

<!-- pin 16 -->
<g class="l">
<ellipse cx="631.300" cy="688.200" rx="6" ry="3.200"/>
<path d="M625.300 688.200V705Q625.500 708.800 631.300 709Q637.100 708.800 637.300 705V688.200"/>
<path d="M637.500 696.800H675.500"/>
</g>

<!-- watermark -->
<g font-family="'Liberation Sans',sans-serif" font-weight="bold" font-style="italic" style="mix-blend-mode:multiply" stroke-linejoin="round">
<mask id="m46" maskUnits="userSpaceOnUse" x="560" y="775" width="85" height="40"><rect x="560" y="775" width="85" height="40" fill="#fff"/>
<text x="580" y="804.500" font-size="24.500" fill="#000" stroke="#000" stroke-width="0.800" textLength="50" lengthAdjust="spacingAndGlyphs">46</text></mask>
<path d="M575.200 779.900H637.700L629 811H566.400Z" fill="#ffb6b6" mask="url(#m46)"/>
<text x="327.500" y="804.500" font-size="24.500" fill="#c0c0c0" stroke="#c0c0c0" stroke-width="0.800" textLength="132" lengthAdjust="spacingAndGlyphs">SKLEP</text>
<text x="459" y="804.500" font-size="24.500" fill="#ffbebe" stroke="#ffbebe" stroke-width="0.800" textLength="116" lengthAdjust="spacingAndGlyphs">MOTO</text>
<text x="634" y="804.500" font-size="24.500" fill="#c0c0c0" stroke="#c0c0c0" stroke-width="0.800" textLength="58" lengthAdjust="spacingAndGlyphs">.PL</text>
<text x="325" y="818.500" font-size="13.500" fill="#bdbdbd" textLength="236" lengthAdjust="spacing">internetowy sklep motocyklowy</text>
</g>

<!--LABELS-->
<g class="n">
<text x="297" y="143.8">1</text>
<text x="114.5" y="598.8">2</text>
<text x="612" y="508.8">8</text>
<text x="793" y="489.8">9</text>
<text x="934" y="538.8">10</text>
<text x="835.5" y="813.8">7</text>
<text x="971" y="824.3">13</text>
<text x="517.5" y="620.8">15</text>
<text x="690" y="704.8">16</text>
<text x="528" y="872.8">5</text>
<text x="578" y="886.3">4</text>
<text x="666" y="947.3">3</text>
<text x="107.5" y="932.8">5</text>
<text x="129" y="1004.8">4</text>
<text x="116.5" y="1103.3">3</text>
<text x="330.5" y="1118.3">14</text>
<text x="150.5" y="1366.8">6</text>
<text x="221" y="1343.8">13</text>
<text x="633.5" y="1148.3">12</text>
<text x="775.5" y="1112.8">11</text>
</g>
<!--FOOTER-->
<text class="b" x="30" y="1538" textLength="138" lengthAdjust="spacingAndGlyphs">AN400L1_E02_533C</text>
<text class="b" x="30" y="1569" textLength="113" lengthAdjust="spacingAndGlyphs">HYDRAULIC UNIT</text>
</svg>
</body>
</html>
